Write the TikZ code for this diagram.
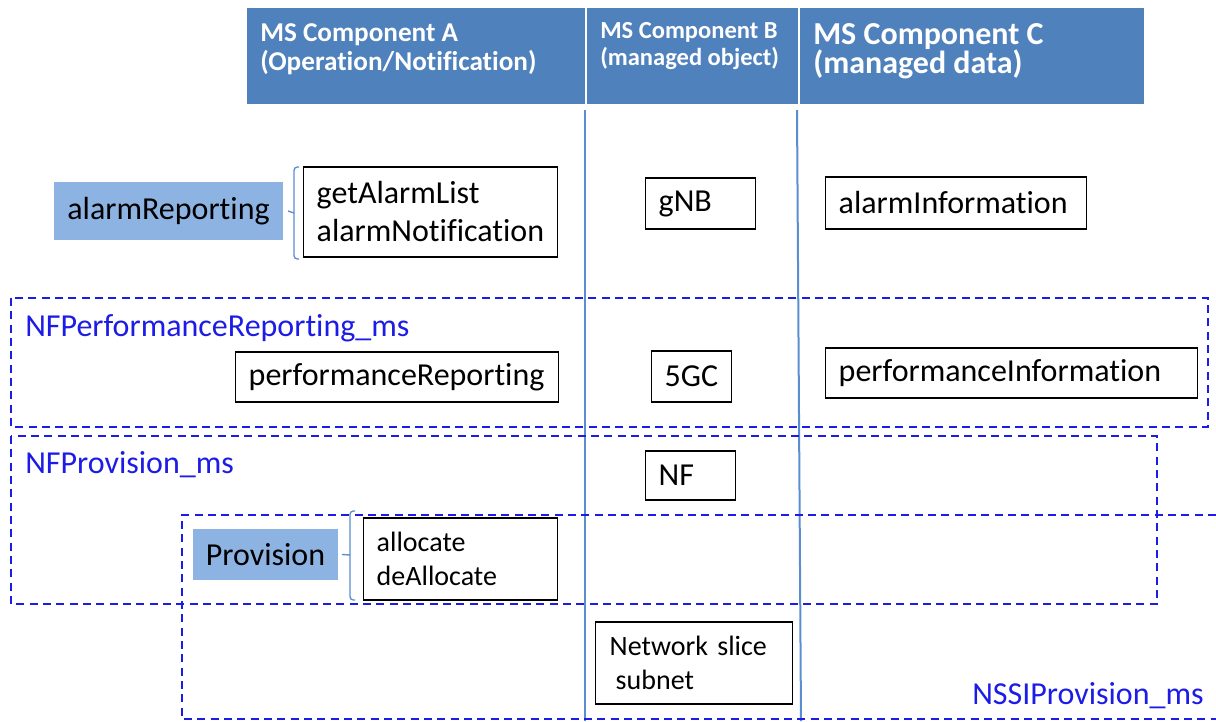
\documentclass[tikz,border=0pt]{standalone}
\usepackage{fontspec}
\setmainfont{Carlito}[RawFeature={-liga;-clig;-calt;-dlig}]
\usetikzlibrary{positioning}

\definecolor{hdrblue}{HTML}{4F81BD}
\definecolor{colline}{HTML}{5B8ED0}
\definecolor{funcblue}{HTML}{8DB3E2}
\definecolor{msblue}{HTML}{1C1CE6}

\newdimen\px \px=0.75pt

\tikzset{
  box/.style={draw=black, line width=1.1pt, fill=white, text width=#1,
    align=left, inner xsep=13\px, inner ysep=0pt, anchor=west,
    font=\fontsize{24}{28.5}\selectfont},
  smallbox/.style={box=#1, font=\fontsize{21}{25}\selectfont},
  func/.style={fill=funcblue, inner sep=0pt, font=\fontsize{24}{28.5}\selectfont},
  hdr/.style={text=white, anchor=north west, align=left, inner sep=0pt},
  mslabel/.style={text=msblue, anchor=base west, inner sep=0pt,
    font=\fontsize{24}{28.5}\selectfont},
  msframe/.style={draw=msblue, line width=1.1pt, dash pattern=on 6pt off 4pt},
  brace/.style={draw=colline, line width=1pt, rounded corners=2.5pt},
}

\begin{document}
\begin{tikzpicture}[x=0.75pt, y=-0.75pt]
\useasboundingbox (0,0) rectangle (1216,721);

% header
\fill[hdrblue] (247,8) rectangle (1144,104);
\draw[white, line width=1.5pt] (586,8) -- (586,104) (799,8) -- (799,104);
\node[hdr, font=\bfseries\fontsize{20.4}{21.75}\selectfont] (compA) at (260,23)
  {MS Component A\\(Operation/Notification)};
\node[hdr, font=\bfseries\fontsize{18.4}{20}\selectfont] (compB) at (600,22)
  {MS Component B\\(managed object)};
\node[hdr, font=\bfseries\fontsize{24}{22}\selectfont] (compC) at (813,23)
  {MS Component C\\(managed data)};

% column lines
\draw[colline, line width=1.5pt] (585,110) -- (585,721);
\draw[colline, line width=1.5pt] (797,110) -- (801,721);

% dashed ms frames
\draw[msframe] (11,298) rectangle (1208,427);
\draw[msframe] (11,436) rectangle (1157,604);
\draw[msframe] (1216,515) -- (182,515) -- (182,719) -- (1216,719);

\node[mslabel] (perfMs) at (25,336) {NFPerformanceReporting\_ms};
\node[mslabel] (provMs) at (25,473) {NFProvision\_ms};
\node[mslabel] (nssiMs) at (972,704) {NSSIProvision\_ms};

% alarm reporting
\node[func, minimum width=229\px, minimum height=58\px] (alarmRep) at (168.5,211) {alarmReporting};
\node[box=228\px, minimum height=90\px] (alarmOps) at (303,212) {getAlarmList\\alarmNotification};
\draw[brace] (299,167) -- (294,167) -- (294,259) -- (299,259);
\draw[brace] (294,213) -- (alarmRep.east -| 288,0);
\node[box=84\px, minimum height=51\px] (gnb) at (645,203.5) {gNB};
\node[box=235\px, minimum height=52\px] (alarmInfo) at (825,203) {alarmInformation};

% performance
\node[box=297\px, minimum height=50\px] (perfRep) at (235,377) {performanceReporting};
\node[box=54\px, minimum height=51\px] (fivegc) at (651,376.5) {5GC};
\node[box=346\px, minimum height=50\px] (perfInfo) at (825,373) {performanceInformation};

% provision
\node[box=64\px, minimum height=49\px] (nf) at (645,475.5) {NF};
\node[func, minimum width=145\px, minimum height=51\px] (prov) at (265.5,554.5) {Provision};
\node[smallbox=168\px, minimum height=82\px] (provOps) at (363,559) {allocate\\deAllocate};
\draw[brace] (355,511) -- (350,511) -- (350,600) -- (355,600);
\draw[brace] (350,555) -- (prov.east -| 342,0);
\node[smallbox=169\px, inner xsep=14\px, minimum height=82\px] (nss) at (595,663)
  {Network slice\\\hspace*{6\px}subnet};

\end{tikzpicture}
\end{document}
